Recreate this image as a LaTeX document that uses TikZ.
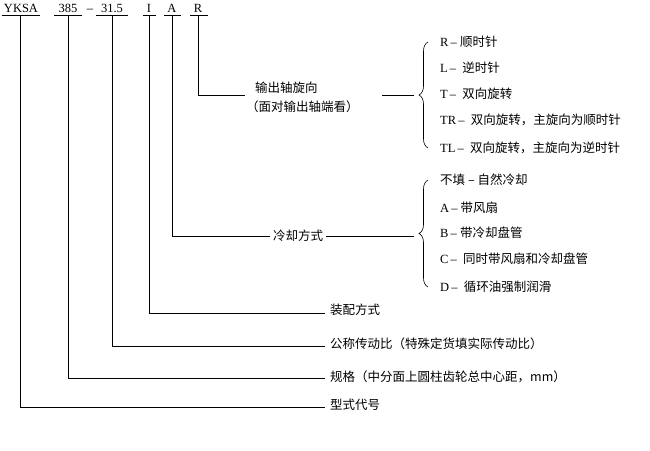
\documentclass[tikz,border=0pt]{standalone}
\usepackage{fontspec}
\setmainfont{Liberation Serif}
\newfontfamily\cjk{Noto Sans CJK SC}
\usetikzlibrary{decorations.pathreplacing}
\begin{document}
\begin{tikzpicture}[x=1pt,y=-1pt,font=\fontsize{12.5}{14}\selectfont,
  ln/.style={line width=0.6pt},
  lab/.style={anchor=west,inner sep=0pt},
  code/.style={anchor=south,inner sep=1pt},
  br/.style={decorate,decoration={brace,amplitude=9pt},line width=0.6pt}]
\useasboundingbox (0,0) rectangle (650,450);
% top codes
\node[code] (yk) at (21,14) {YKSA};
\node[code] (n385) at (68,14) {385};
\node[code] (dash) at (90,14) {\textendash};
\node[code] (n31) at (112,14) {31.5};
\node[code] (cI) at (149,14) {I};
\node[code] (cA) at (172,14) {A};
\node[code] (cR) at (198,14) {R};
\draw[ln] (2,15) -- (40,15) (54,15) -- (82,15) (96,15) -- (128,15)
  (143,15) -- (156,15) (164,15) -- (181,15) (190,15) -- (208,15);
% R branch
\node[lab] (rl1) at (255,88) {\cjk 输出轴旋向};
\node[lab] (rl2) at (246,107) {\cjk （面对输出轴端看）};
\coordinate (rE) at (245,95);
\draw[ln] (198,15) |- (rE);
\draw[ln] (382,95) -- (414,95);
\draw[br] (428,148) -- (428,42);
\foreach \y/\t in {42/{R\,\textendash\ \cjk 顺时针},68/{L\,\textendash\ \ \cjk 逆时针},94/{T\,\textendash\ \ \cjk 双向旋转},120/{TR\,\textendash\ \ \cjk 双向旋转，主旋向为顺时针},148/{TL\,\textendash\ \ \cjk 双向旋转，主旋向为逆时针}}
  \node[lab] at (440,\y) {\t};
% A branch
\node[lab,inner xsep=3pt] (al) at (270,236) {\cjk 冷却方式};
\draw[ln] (172,15) |- (al.west);
\draw[ln] (al.east) -- (414,236);
\draw[br] (428,287) -- (428,180);
\foreach \y/\t in {180/{\cjk 不填\ \textendash\ 自然冷却},208/{A\,\textendash\ \cjk 带风扇},233/{B\,\textendash\ \cjk 带冷却盘管},259/{C\,\textendash\ \ \cjk 同时带风扇和冷却盘管},287/{D\,\textendash\ \ \cjk 循环油强制润滑}}
  \node[lab] at (440,\y) {\t};
% lower
\node[lab] (il) at (330,310) {\cjk 装配方式};
\draw[ln] (149,15) |- (325,313);
\node[lab] (sl) at (330,344) {\cjk 公称传动比（特殊定货填实际传动比）};
\draw[ln] (112,15) |- (325,346);
\node[lab] (gl) at (330,377) {\cjk 规格（中分面上圆柱齿轮总中心距，mm）};
\draw[ln] (68,15) |- (325,378);
\node[lab] (xl) at (330,405) {\cjk 型式代号};
\draw[ln] (20,15) |- (325,407);
\end{tikzpicture}
\end{document}
